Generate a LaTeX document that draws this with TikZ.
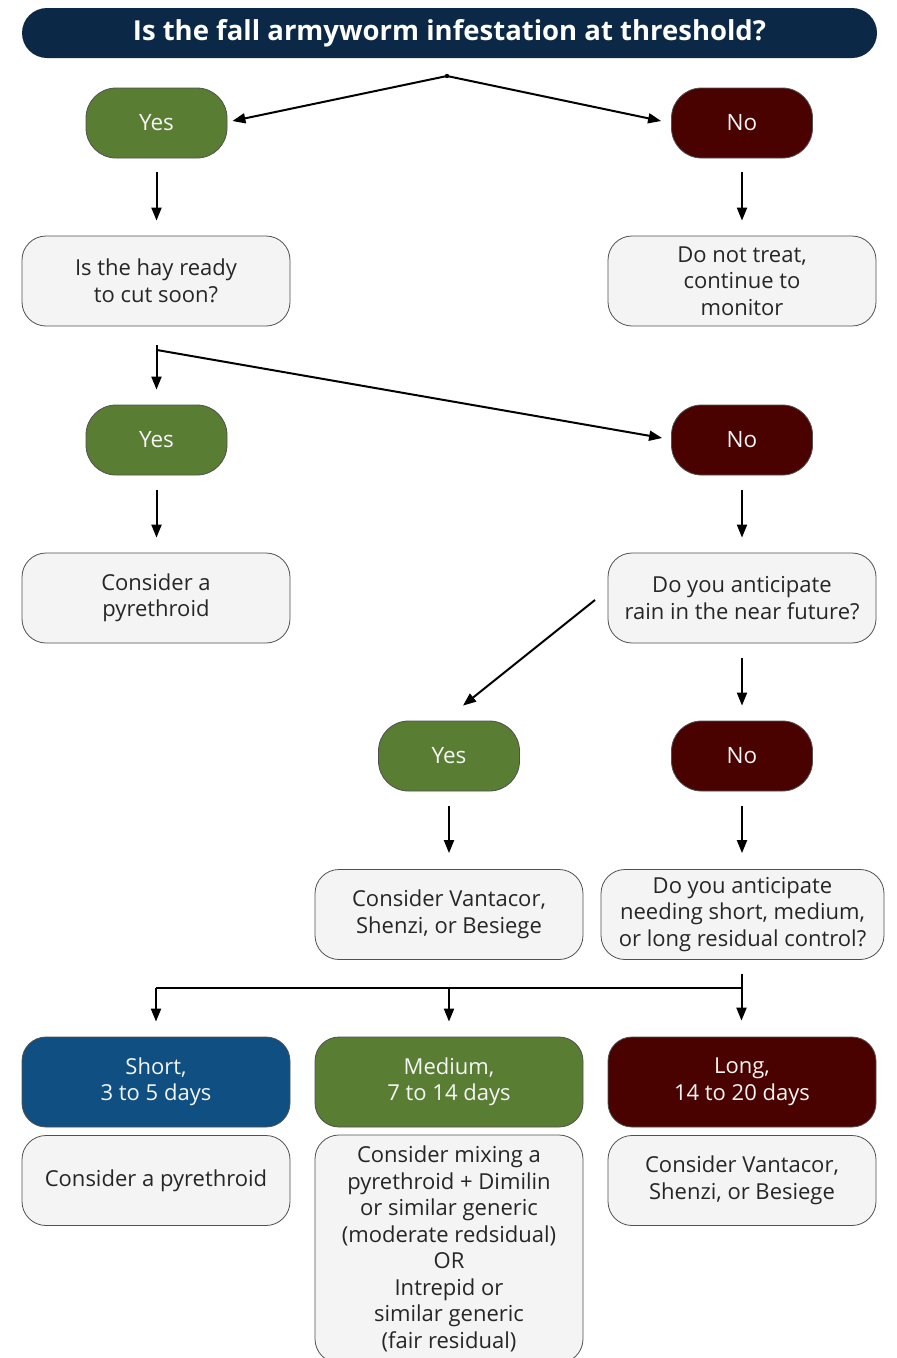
\documentclass[tikz,border=0pt]{standalone}
\usepackage{fontspec}
\setmainfont{Open Sans}
\usetikzlibrary{arrows.meta}
\definecolor{navy}{HTML}{0B2946}
\definecolor{leaf}{HTML}{5A7D34}
\definecolor{wine}{HTML}{4A0200}
\definecolor{sea}{HTML}{0F4F82}
\definecolor{boxfill}{HTML}{F4F4F4}
\definecolor{edge}{HTML}{505050}
\begin{document}
\begin{tikzpicture}[x=1pt,y=-1pt,
  pill/.style={draw=edge, line width=0.8pt, rounded corners=30pt, minimum width=141pt, minimum height=70pt, text=white!92!gray, font=\fontsize{22.5}{26}\selectfont, inner sep=0pt},
  box/.style={draw=edge, fill=boxfill, line width=0.8pt, rounded corners=24pt, minimum width=268pt, minimum height=90pt, align=center, font=\fontsize{22}{26.5}\selectfont, text=black!85, inner sep=2pt},
  head/.style={draw=edge, line width=0.8pt, rounded corners=24pt, minimum width=268pt, minimum height=90pt, align=center, font=\fontsize{22}{26.5}\selectfont, text=white!92!gray, inner sep=2pt},
  arr/.style={-{Triangle[length=13pt,width=10pt]}, line width=2pt},
  ln/.style={line width=2pt}
]
\useasboundingbox (0,0) rectangle (897,1358);
\clip (0,0) rectangle (897,1358);
\fill[white] (0,0) rectangle (897,1358);

% title
\node[fill=navy, rounded corners=25pt, minimum width=855pt, minimum height=50pt, text=white, font=\bfseries\fontsize{27.5}{32}\selectfont, inner sep=0pt] (title) at (449.5,33) {Is the fall armyworm infestation at threshold?};

% row 1
\node[pill, fill=leaf] (yes1) at (156.5,123) {Yes};
\node[pill, fill=wine] (no1) at (742,123) {No};
\node[box] (hay) at (156,281) {Is the hay ready\\to cut soon?};
\node[box] (notreat) at (742,281) {Do not treat,\\continue to\\monitor};

% row 2
\node[pill, fill=leaf] (yes2) at (156.5,440) {Yes};
\node[pill, fill=wine] (no2) at (742,440) {No};
\node[box] (pyr) at (156,598) {Consider a\\pyrethroid};
\node[box] (rain) at (742,598) {Do you anticipate\\rain in the near future?};

% row 3
\node[pill, fill=leaf] (yes3) at (449,756) {Yes};
\node[pill, fill=wine] (no3) at (742,756) {No};
\node[box] (vant) at (449,914.5) {Consider Vantacor,\\Shenzi, or Besiege};
\node[box, minimum width=283pt] (resid) at (742.5,914.5) {Do you anticipate\\needing short, medium,\\or long residual control?};

% row 4
\node[head, fill=sea] (short) at (156,1082) {Short,\\3 to 5 days};
\node[head, fill=leaf] (med) at (449,1082) {Medium,\\7 to 14 days};
\node[head, fill=wine] (long) at (742,1082) {Long,\\14 to 20 days};
\node[box] (shortd) at (156,1180.5) {Consider a pyrethroid};
\node[box, minimum height=228pt] (medd) at (449,1249) {Consider mixing a\\pyrethroid + Dimilin\\or similar generic\\(moderate redsidual)\\OR\\Intrepid or\\similar generic\\(fair residual)};
\node[box] (longd) at (742,1180.5) {Consider Vantacor,\\Shenzi, or Besiege};

% connectors
\coordinate (s1) at (447,76);
\fill (s1) circle (2.2pt);
\draw[arr] (s1) -- ([xshift=5pt,yshift=2pt]yes1.east);
\draw[arr] (s1) -- ([xshift=-10pt,yshift=2pt]no1.west);

\draw[arr, shorten <=14pt, shorten >=15pt] (yes1.south) -- (hay.north -| yes1.south);
\draw[arr, shorten <=14pt, shorten >=15pt] (no1.south) -- (notreat.north);

\coordinate (s2) at (156.5,345);
\coordinate (s2b) at (157,350);
\draw[arr] (s2) -- ([yshift=15pt]yes2.north);
\draw[arr] (s2b) -- ([xshift=-9pt,yshift=2pt]no2.west);

\draw[arr, shorten <=15pt, shorten >=15pt] (yes2.south) -- (pyr.north -| yes2.south);
\draw[arr, shorten <=15pt, shorten >=15pt] (no2.south) -- (rain.north);

\coordinate (r1) at (595,600);
\draw[arr] (r1) -- ([xshift=14pt,yshift=15pt]yes3.north);
\draw[arr, shorten <=15pt, shorten >=15pt] (rain.south) -- (no3.north);

\draw[arr, shorten <=15pt, shorten >=16pt] (yes3.south) -- (vant.north);
\draw[arr, shorten <=15pt, shorten >=16pt] (no3.south) -- (no3.south |- resid.north);

\coordinate (s3) at (741.5,988);
\coordinate (s3l) at (156,988);
\coordinate (s3m) at (449,988);
\draw[arr, shorten <=14pt, shorten >=16pt] (resid.south -| s3) -- (long.north -| s3);
\draw[ln] (s3) -- (s3l);
\draw[arr, shorten >=15pt] (s3l) -- (short.north);
\draw[arr, shorten >=15pt] (s3m) -- (med.north);
\end{tikzpicture}
\end{document}
